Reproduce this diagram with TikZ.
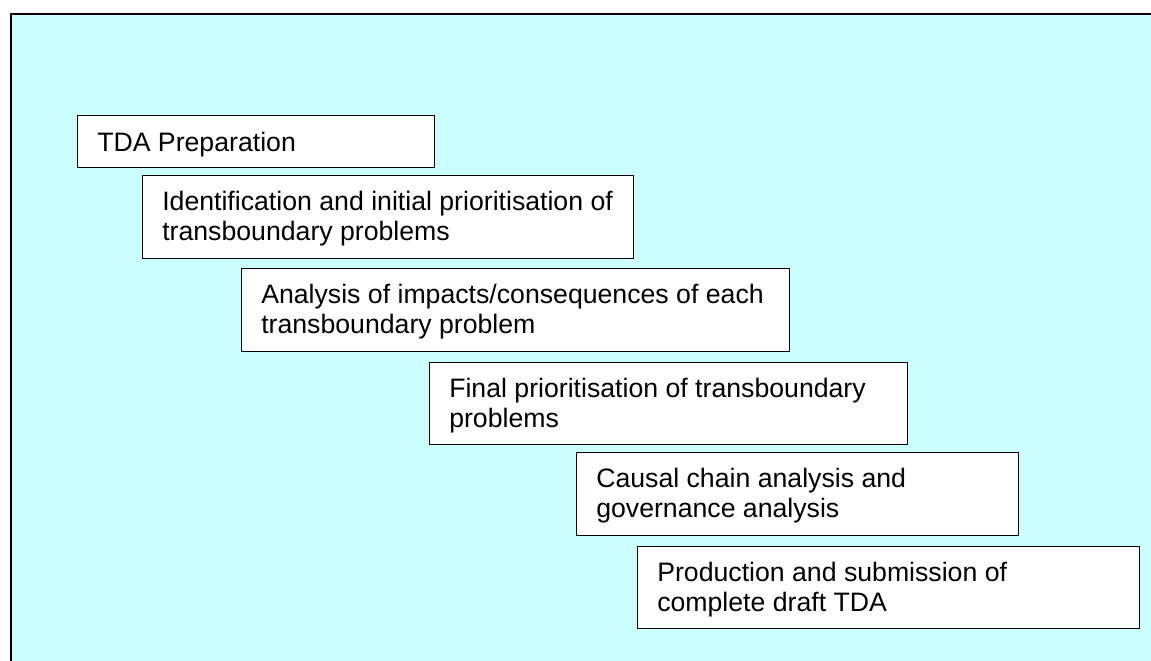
\documentclass[tikz,border=0pt]{standalone}
\usepackage{fontspec}
\setmainfont{Liberation Sans}
\usetikzlibrary{calc}
\definecolor{bgcyan}{HTML}{CCFFFF}
\tikzset{
  stepbox/.style={draw=black, line width=1.1pt, fill=white, rectangle, inner sep=0pt, anchor=north west},
  steplabel/.style={inner sep=0pt, anchor=base west, align=left, font=\fontsize{20pt}{23pt}\selectfont},
}
\begin{document}
\begin{tikzpicture}[x=0.75pt, y=-0.75pt]
\useasboundingbox (0,0) rectangle (1151,660);
\fill[bgcyan] (11,14) rectangle (1160,670);
\draw[line width=1.5pt] (11,670) -- (11,14) -- (1160,14);
% boxes: widths/heights in px converted to pt (x0.75)
\node[stepbox, minimum width=267.75pt, minimum height=39pt] (b1) at (77,115) {};
\node[stepbox, minimum width=368.25pt, minimum height=62.25pt] (b2) at (142,175) {};
\node[stepbox, minimum width=411pt, minimum height=62.25pt] (b3) at (241,268) {};
\node[stepbox, minimum width=358.5pt, minimum height=61.5pt] (b4) at (429,362) {};
\node[stepbox, minimum width=331.5pt, minimum height=62.25pt] (b5) at (576,452) {};
\node[stepbox, minimum width=376.5pt, minimum height=61.5pt] (b6) at (637,546) {};
% base anchor of a two-line label is the baseline of its last line
\node[steplabel] (t1) at ($(b1.north west)+(20,36)$) {TDA Preparation};
\node[steplabel] (t2) at ($(b2.north west)+(20,65.7)$) {Identification and initial prioritisation of\\transboundary problems};
\node[steplabel] (t3) at ($(b3.north west)+(20,65.7)$) {Analysis of impacts/consequences of each\\transboundary problem};
\node[steplabel] (t4) at ($(b4.north west)+(20,65.7)$) {Final prioritisation of transboundary\\problems};
\node[steplabel] (t5) at ($(b5.north west)+(20,65.7)$) {Causal chain analysis and\\governance analysis};
\node[steplabel] (t6) at ($(b6.north west)+(20,65.7)$) {Production and submission of\\complete draft TDA};
\end{tikzpicture}
\end{document}
